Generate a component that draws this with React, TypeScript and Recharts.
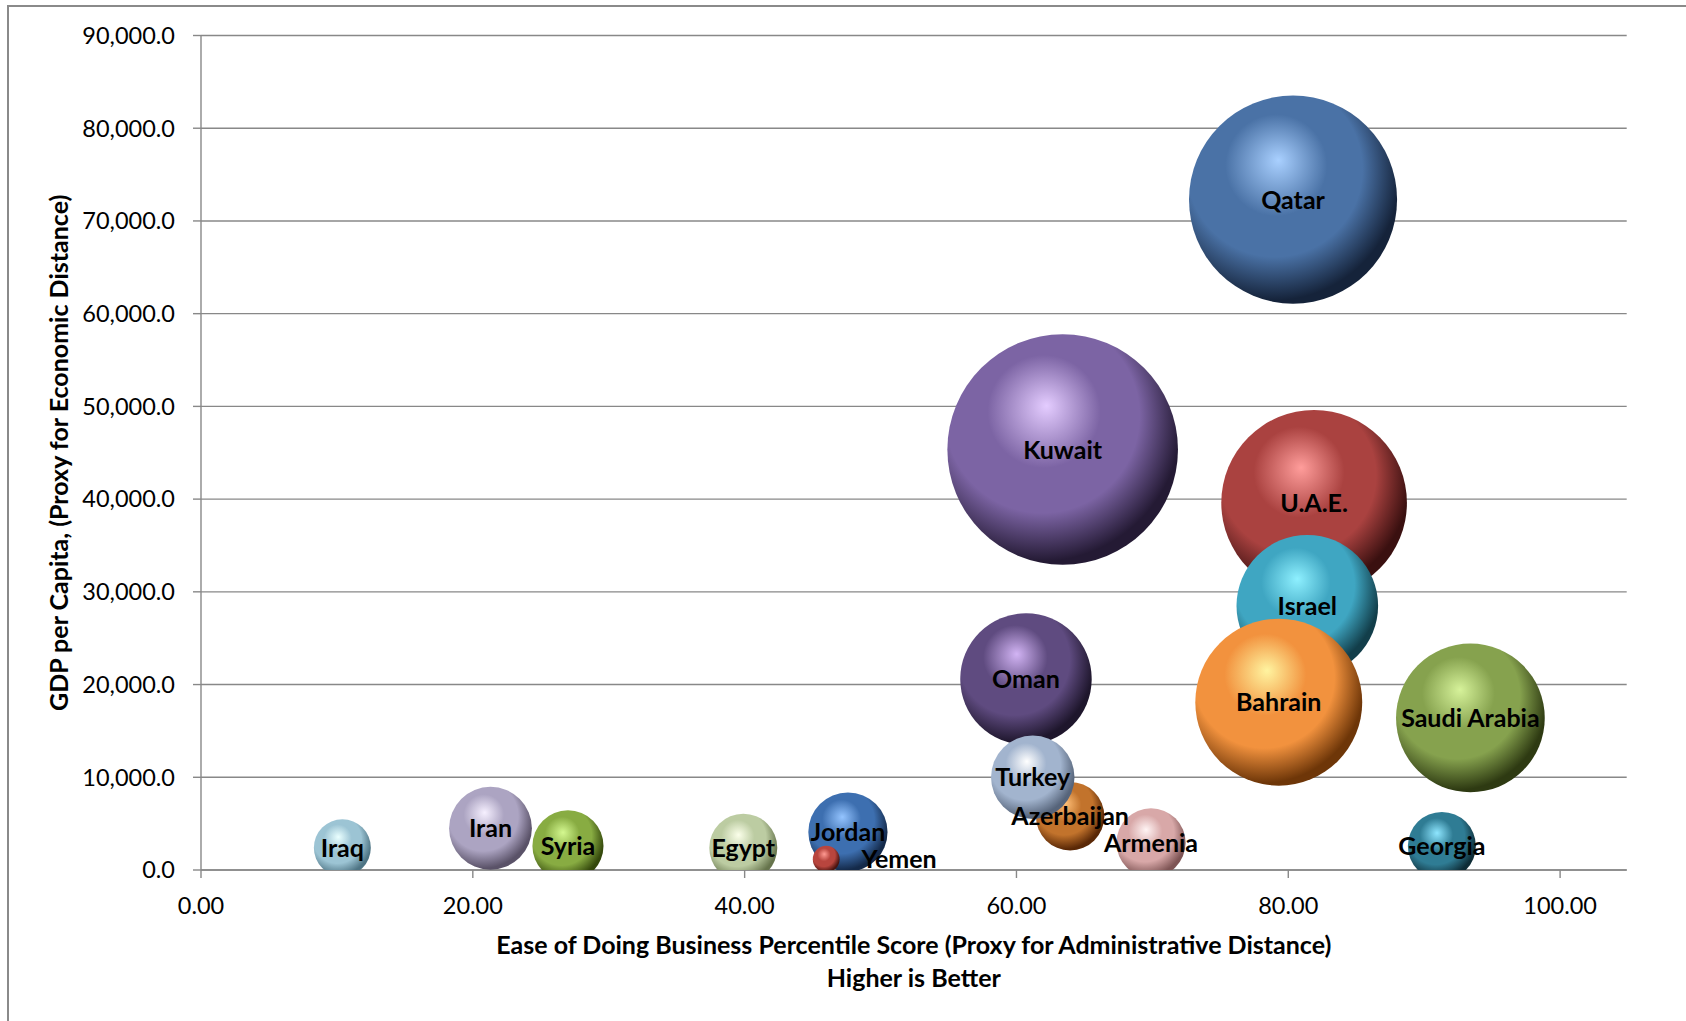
import React from "react";
import {
  ScatterChart,
  Scatter,
  XAxis,
  YAxis,
  ZAxis,
  CartesianGrid,
  Cell,
  LabelList,
} from "recharts";

// series order follows the workbook: later countries sit on top of earlier ones
const countries = [
  "Qatar",
  "U.A.E.",
  "Saudi Arabia",
  "Kuwait",
  "Israel",
  "Bahrain",
  "Jordan",
  "Yemen",
  "Oman",
  "Georgia",
  "Azerbaijan",
  "Turkey",
  "Armenia",
  "Egypt",
  "Iran",
  "Iraq",
  "Syria",
];
const easeScore = [80.35, 81.9, 93.4, 63.4, 81.4, 79.3, 47.6, 46.0, 60.7, 91.3, 63.95, 61.2, 69.9, 39.9, 21.3, 10.4, 27.0];
const gdpPerCapita = [72300, 39600, 16400, 45350, 28500, 18100, 4100, 1170, 20600, 2600, 5800, 10000, 2930, 2400, 4500, 2400, 2600];
const bubbleSize = [81.4, 64.8, 41.6, 100, 37.7, 52.4, 11.8, 1.35, 32.5, 8.7, 8.8, 13.1, 9.0, 8.7, 12.9, 6.1, 9.5];

const xTicks = [0, 20, 40, 60, 80, 100];
const yTicks = [0, 10000, 20000, 30000, 40000, 50000, 60000, 70000, 80000, 90000];

// highlight, body, shadow for each sphere
const sphereColors: [string, string, string][] = [
  ["#a9d0ff", "#4a72a6", "#15233a"],
  ["#ff9d9b", "#aa4240", "#3a1010"],
  ["#d6f29a", "#86a24e", "#2e3a12"],
  ["#e4ccff", "#7c64a4", "#241a34"],
  ["#8ef0ff", "#3fa6c2", "#123e4a"],
  ["#fff4a0", "#f2923e", "#6e3608"],
  ["#94c4ff", "#3d6fb0", "#142a4a"],
  ["#ff9a92", "#b8453e", "#4a1410"],
  ["#d2b4f4", "#5f4b80", "#1e162c"],
  ["#8ee6ff", "#2f7c94", "#0e2c36"],
  ["#ffc078", "#c2732c", "#5a2806"],
  ["#ffffff", "#a2b4ce", "#56647a"],
  ["#fff4f4", "#d8a8a8", "#7e5454"],
  ["#fbffea", "#bccca2", "#66744c"],
  ["#f6f0ff", "#aca4c2", "#5a5268"],
  ["#eaffff", "#9cc4d4", "#4e7484"],
  ["#d4f890", "#88ac42", "#34480c"],
];

const data = countries.map((name, i) => ({
  name,
  x: easeScore[i],
  y: gdpPerCapita[i],
  z: bubbleSize[i],
}));

const FONT = "Lato, 'Open Sans', sans-serif";
const GRID = "#888888";

function Sphere(props: any) {
  const { cx, cy, width, fill } = props;
  if (cx == null || cy == null) return null;
  return <circle cx={cx} cy={cy} r={width / 2} fill={fill} />;
}

function BubbleLabel(props: any) {
  const { value } = props;
  const vb = props.viewBox || props;
  const cx = vb.x + vb.width / 2;
  const cy = vb.y + vb.height / 2;
  const right = value === "Yemen";
  return (
    <text
      x={right ? cx + vb.width / 2 + 22 : cx}
      y={cy}
      dy={9}
      textAnchor={right ? "start" : "middle"}
      fontFamily={FONT}
      fontWeight={700}
      fontSize={25}
      fill="#000"
    >
      {value}
    </text>
  );
}

export default function App() {
  return (
    <div
      style={{
        position: "absolute",
        left: 0,
        top: 0,
        width: 1686,
        height: 1021,
        overflow: "hidden",
        background: "#fff",
      }}
    >
      <div
        style={{
          position: "absolute",
          left: 7,
          top: 5,
          width: 1800,
          height: 1200,
          borderLeft: "2px solid #8a8a8a",
          borderTop: "2px solid #8a8a8a",
        }}
      />
      <div style={{ position: "absolute", left: 0, top: 0 }}>
        <ScatterChart
          width={1686}
          height={1021}
          margin={{ top: 35.5, right: 59.3, bottom: 91, left: 81 }}
          style={{ fontFamily: FONT }}
        >
          <defs>
            {sphereColors.map(([hi, body, shade], i) => (
              <radialGradient
                key={i}
                id={`sphere-${i}`}
                cx="0.4"
                cy="0.38"
                r="0.68"
                fx="0.43"
                fy="0.31"
              >
                <stop offset="0" stopColor={hi} />
                <stop offset="0.36" stopColor={body} />
                <stop offset="0.62" stopColor={body} />
                <stop offset="0.9" stopColor={shade} />
                <stop offset="1" stopColor={shade} />
              </radialGradient>
            ))}
          </defs>
          <CartesianGrid vertical={false} stroke={GRID} strokeWidth={1.4} />
          <XAxis
            type="number"
            dataKey="x"
            domain={[0, 104.9]}
            ticks={xTicks}
            allowDataOverflow
            height={60}
            tickFormatter={(v: number) => v.toFixed(2)}
            tick={{ fontSize: 23.5, fill: "#000", fontFamily: FONT }}
            stroke={GRID}
            strokeWidth={1.4}
            tickSize={8}
            tickMargin={19}
          />
          <YAxis
            type="number"
            dataKey="y"
            domain={[0, 90000]}
            ticks={yTicks}
            allowDataOverflow
            width={120}
            tickFormatter={(v: number) =>
              v.toLocaleString("en-US", { minimumFractionDigits: 1, maximumFractionDigits: 1 })
            }
            tick={{ fontSize: 23.5, fill: "#000", fontFamily: FONT }}
            stroke={GRID}
            strokeWidth={1.4}
            tickSize={8}
            tickMargin={18}
          />
          <ZAxis type="number" dataKey="z" domain={[0, 100]} range={[0, Math.PI * 115.3 * 115.3]} />
          <Scatter data={data} shape={<Sphere />} isAnimationActive={false}>
            {data.map((_, i) => (
              <Cell key={i} fill={`url(#sphere-${i})`} />
            ))}
            <LabelList dataKey="name" content={<BubbleLabel />} />
          </Scatter>
          <text
            x={913.8}
            y={945}
            dy={9}
            textAnchor="middle"
            fontFamily={FONT}
            fontWeight={700}
            fontSize={25}
          >
            Ease of Doing Business Percentile Score (Proxy for Administrative Distance)
          </text>
          <text
            x={913.8}
            y={978}
            dy={9}
            textAnchor="middle"
            fontFamily={FONT}
            fontWeight={700}
            fontSize={25}
          >
            Higher is Better
          </text>
          <text
            x={59}
            y={452.8}
            dy={9}
            textAnchor="middle"
            fontFamily={FONT}
            fontWeight={700}
            fontSize={25}
            transform="rotate(-90 59 452.8)"
          >
            GDP per Capita, (Proxy for Economic Distance)
          </text>
        </ScatterChart>
      </div>
    </div>
  );
}
